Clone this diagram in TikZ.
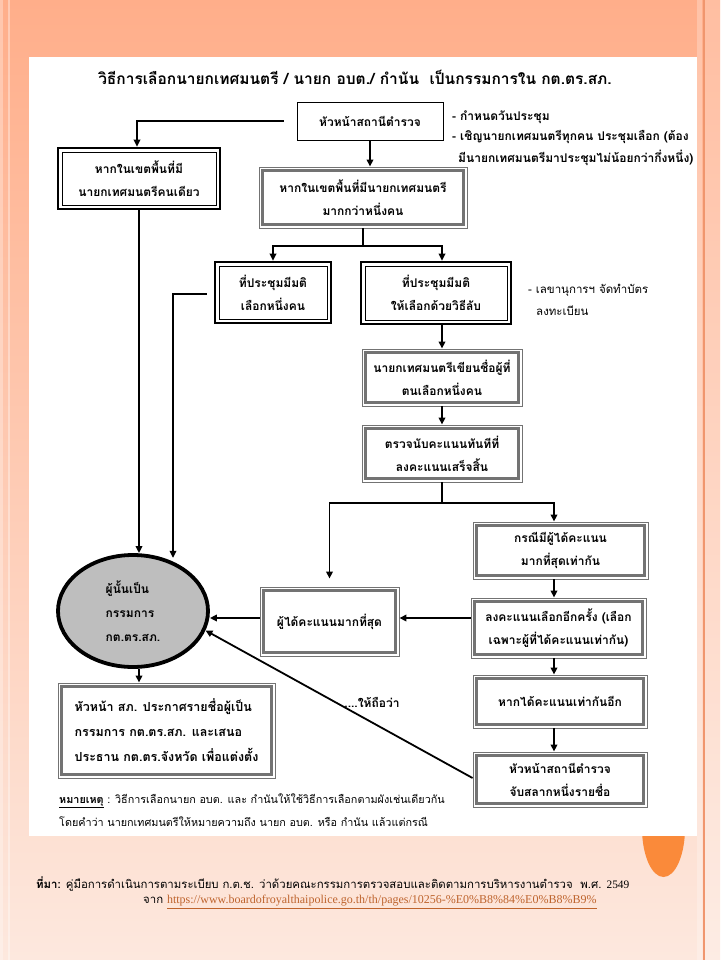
\documentclass[tikz,border=0pt]{standalone}
\usepackage{fontspec}
\setmainfont[Script=Thai]{Loma}
\newfontfamily\lserif{Liberation Serif}
\usetikzlibrary{arrows.meta,shapes.geometric,calc}
\definecolor{bgtop}{RGB}{255,174,138}
\definecolor{bgbot}{RGB}{253,232,222}
\definecolor{blob}{RGB}{250,138,58}
\definecolor{edgeline}{RGB}{240,150,110}
\definecolor{urlc}{RGB}{190,100,45}
\definecolor{ellfill}{RGB}{190,190,190}
\begin{document}
\begin{tikzpicture}[x=1pt,y=-1pt,
  boxtxt/.style={font=\bfseries\fontsize{12}{23}\selectfont},
  boxA/.style={boxtxt, draw=black, fill=white, line width=2.6pt, inner sep=0pt, align=center,
    path picture={\draw[line width=0.8pt] ([shift={(4pt,4pt)}]path picture bounding box.south west) rectangle ([shift={(-4pt,-4pt)}]path picture bounding box.north east);}},
  boxB/.style={boxtxt, draw=black!55, fill=white, line width=0.9pt, inner sep=0pt, align=center,
    path picture={\draw[line width=3pt] ([shift={(3.6pt,3.6pt)}]path picture bounding box.south west) rectangle ([shift={(-3.6pt,-3.6pt)}]path picture bounding box.north east);}},
  plainbox/.style={boxtxt, draw=black, fill=white, line width=0.9pt, inner sep=0pt},
  conn/.style={line width=1.8pt},
  arr/.style={line width=1.8pt, -{Triangle[length=7pt,width=6.5pt]}},
  notetxt/.style={font=\bfseries\fontsize{12}{14}\selectfont, anchor=west, inner sep=0pt},
  smalltxt/.style={font=\fontsize{10.8}{12}\selectfont, anchor=west, inner sep=0pt}
]
\useasboundingbox (0,0) rectangle (720,960);
% background
\fill[top color=bgtop, bottom color=bgbot] (0,0) rectangle (720,960);
\fill[white, opacity=0.3] (0,0) rectangle (3,960);
\fill[white, opacity=0.35] (8,0) rectangle (10,960);
\fill[white, opacity=0.25] (697,0) rectangle (702,960);
\fill[edgeline] (703,0) rectangle (704.5,960);
\fill[white, opacity=0.2] (705,0) rectangle (720,960);
\fill[blob] (663.5,828) ellipse [x radius=21.5pt, y radius=49pt];
\fill[white] (29,57) rectangle (697,836);

% title
\node[font=\bfseries\fontsize{15.5}{18}\selectfont, inner sep=0pt] (title) at (355,77)
  {วิธีการเลือกนายกเทศมนตรี / นายก อบต./ กำนัน \ เป็นกรรมการใน กต.ตร.สภ.};

% boxes
\node[plainbox, minimum width=146, minimum height=38] (b1) at (370,121) {หัวหน้าสถานีตำรวจ};
\node[boxA, minimum width=162, minimum height=61] (b2) at (139,178.5) {หากในเขตพื้นที่มี\\นายกเทศมนตรีคนเดียว};
\node[boxB, minimum width=208, minimum height=61] (b3) at (363,197.5) {หากในเขตพื้นที่มีนายกเทศมนตรี\\มากกว่าหนึ่งคน};
\node[boxA, minimum width=116, minimum height=61] (b4) at (273,292.5) {ที่ประชุมมีมติ\\เลือกหนึ่งคน};
\node[boxA, minimum width=150, minimum height=62] (b5) at (436,293) {ที่ประชุมมีมติ\\ให้เลือกด้วยวิธีลับ};
\node[boxB, minimum width=160, minimum height=57] (b6) at (442,377.5) {นายกเทศมนตรีเขียนชื่อผู้ที่\\ตนเลือกหนึ่งคน};
\node[boxB, minimum width=160, minimum height=57] (b7) at (442,453.5) {ตรวจนับคะแนนทันทีที่\\ลงคะแนนเสร็จสิ้น};
\node[boxB, minimum width=175, minimum height=57] (b8) at (560.5,550.5) {กรณีมีผู้ได้คะแนน\\มากที่สุดเท่ากัน};
\node[boxB, minimum width=175, minimum height=60] (b9) at (558.5,628) {ลงคะแนนเลือกอีกครั้ง (เลือก\\เฉพาะผู้ที่ได้คะแนนเท่ากัน)};
\node[boxB, minimum width=139, minimum height=69] (b10) at (329.5,621.5) {ผู้ได้คะแนนมากที่สุด};
\node[ellipse, draw=black, line width=3.8pt, fill=ellfill, minimum width=150, minimum height=112,
  inner sep=0pt, align=left, font=\bfseries\fontsize{12}{24}\selectfont] (ell) at (133,611)
  {ผู้นั้นเป็น\\กรรมการ\\กต.ตร.สภ.};
\node[boxB, minimum width=217, minimum height=95, align=left, font=\bfseries\fontsize{12.5}{25}\selectfont] (b11) at (166.5,730.5)
  {หัวหน้า สภ. ประกาศรายชื่อผู้เป็น\\กรรมการ กต.ตร.สภ. และเสนอ\\ประธาน กต.ตร.จังหวัด เพื่อแต่งตั้ง};
\node[boxB, minimum width=174, minimum height=53] (b12) at (560,701.5) {หากได้คะแนนเท่ากันอีก};
\node[boxB, minimum width=174, minimum height=55] (b13) at (560,779.5) {หัวหน้าสถานีตำรวจ\\จับสลากหนึ่งรายชื่อ};

% notes
\node[notetxt] (n1) at (452,117) {- กำหนดวันประชุม};
\node[notetxt] (n2) at (452,137) {- เชิญนายกเทศมนตรีทุกคน ประชุมเลือก (ต้อง};
\node[notetxt] (n3) at (458,158) {มีนายกเทศมนตรีมาประชุมไม่น้อยกว่ากึ่งหนึ่ง)};
\node[smalltxt, font=\fontsize{11.5}{12}\selectfont] (n4) at (528,290) {- เลขานุการฯ จัดทำบัตร};
\node[smalltxt, font=\fontsize{11.5}{12}\selectfont] (n5) at (536,311) {ลงทะเบียน};
\node[font=\bfseries\fontsize{12}{14}\selectfont, inner sep=0pt] (lbl) at (372,702) {....ให้ถือว่า};

\node[smalltxt] (r1) at (59,801) {\textbf{\underline{หมายเหตุ}} : วิธีการเลือกนายก อบต. และ กำนันให้ใช้วิธีการเลือกตามผังเช่นเดียวกัน};
\node[smalltxt] (r2) at (59,822) {โดยคำว่า นายกเทศมนตรีให้หมายความถึง นายก อบต. หรือ กำนัน แล้วแต่กรณี};

\node[smalltxt, font=\fontsize{11.4}{12}\selectfont] (s1) at (36,884) {\textbf{ที่มา:} คู่มือการดำเนินการตามระเบียบ ก.ต.ช. ว่าด้วยคณะกรรมการตรวจสอบและติดตามการบริหารงานตำรวจ \ พ.ศ. {\lserif 2549}};
\node[smalltxt, font=\fontsize{11.4}{12}\selectfont] (s2) at (143,902) {จาก {\lserif\fontsize{12}{12}\selectfont\color{urlc}\underline{https://www.boardofroyalthaipolice.go.th/th/pages/10256-\%E0\%B8\%84\%E0\%B8\%B9\%}}};

% junction coordinates
\coordinate (j0) at (137,121);
\coordinate (j1) at (363,246);
\coordinate (j2) at (442,503);
\coordinate (j3) at (173,294);
\coordinate (p5s) at ([xshift=6pt]b5.south);
\coordinate (p5n) at ([xshift=6pt]b5.north);
\coordinate (p8n) at ([xshift=-6.5pt]b8.north);
\coordinate (p8s) at ([xshift=-6.5pt]b8.south);
\coordinate (p9n) at ([xshift=-4.5pt]b9.north);
\coordinate (p9s) at ([xshift=-4.5pt]b9.south);
\coordinate (p9w) at ([yshift=10pt]b9.west);
\coordinate (p10w) at ([yshift=3.5pt]b10.west);
\coordinate (p12n) at ([xshift=-6pt]b12.north);
\coordinate (p12s) at ([xshift=-6pt]b12.south);
\coordinate (p13n) at ([xshift=-6pt]b13.north);
\coordinate (p13w) at ([yshift=1.5pt]b13.west);
\coordinate (p4w) at ([yshift=-1.5pt]b4.west);

% connectors
\draw[arr, shorten <=13pt] (b1.west) -- (j0) -- (b2.north -| j0);
\draw[arr] (b1.south) -- (b3.north -| b1.south);
\draw[conn] (b3.south) -- (j1);
\draw[arr] (j1) -| (b4.north);
\draw[arr] (j1) -| (p5n);
\draw[arr] (p5s) -- (b6.north);
\draw[arr] (b6.south) -- (b7.north);
\draw[conn] (b7.south) -- (j2);
\draw[arr, shorten >=8pt] (j2) -| (b10.north);
\draw[arr] (j2) -| (p8n);
\draw[arr] (p8s) -- (p9n);
\draw[arr] (p9w) -- (b10.east |- p9w);
\draw[arr] (p10w) -- (ell.east |- p10w);
\draw[arr] (p9s) -- (p12n);
\draw[arr] (p12s) -- (p13n);
\draw[arr] (p13w) -- (ell.-15);
\draw[arr] (b2.south) -- (ell.north -| b2.south);
\draw[arr, shorten <=7pt] (p4w) -- (j3) -- (ell.60 -| j3);
\draw[arr] (ell.south -| b2.south) -- (b11.north -| b2.south);
\end{tikzpicture}
\end{document}
